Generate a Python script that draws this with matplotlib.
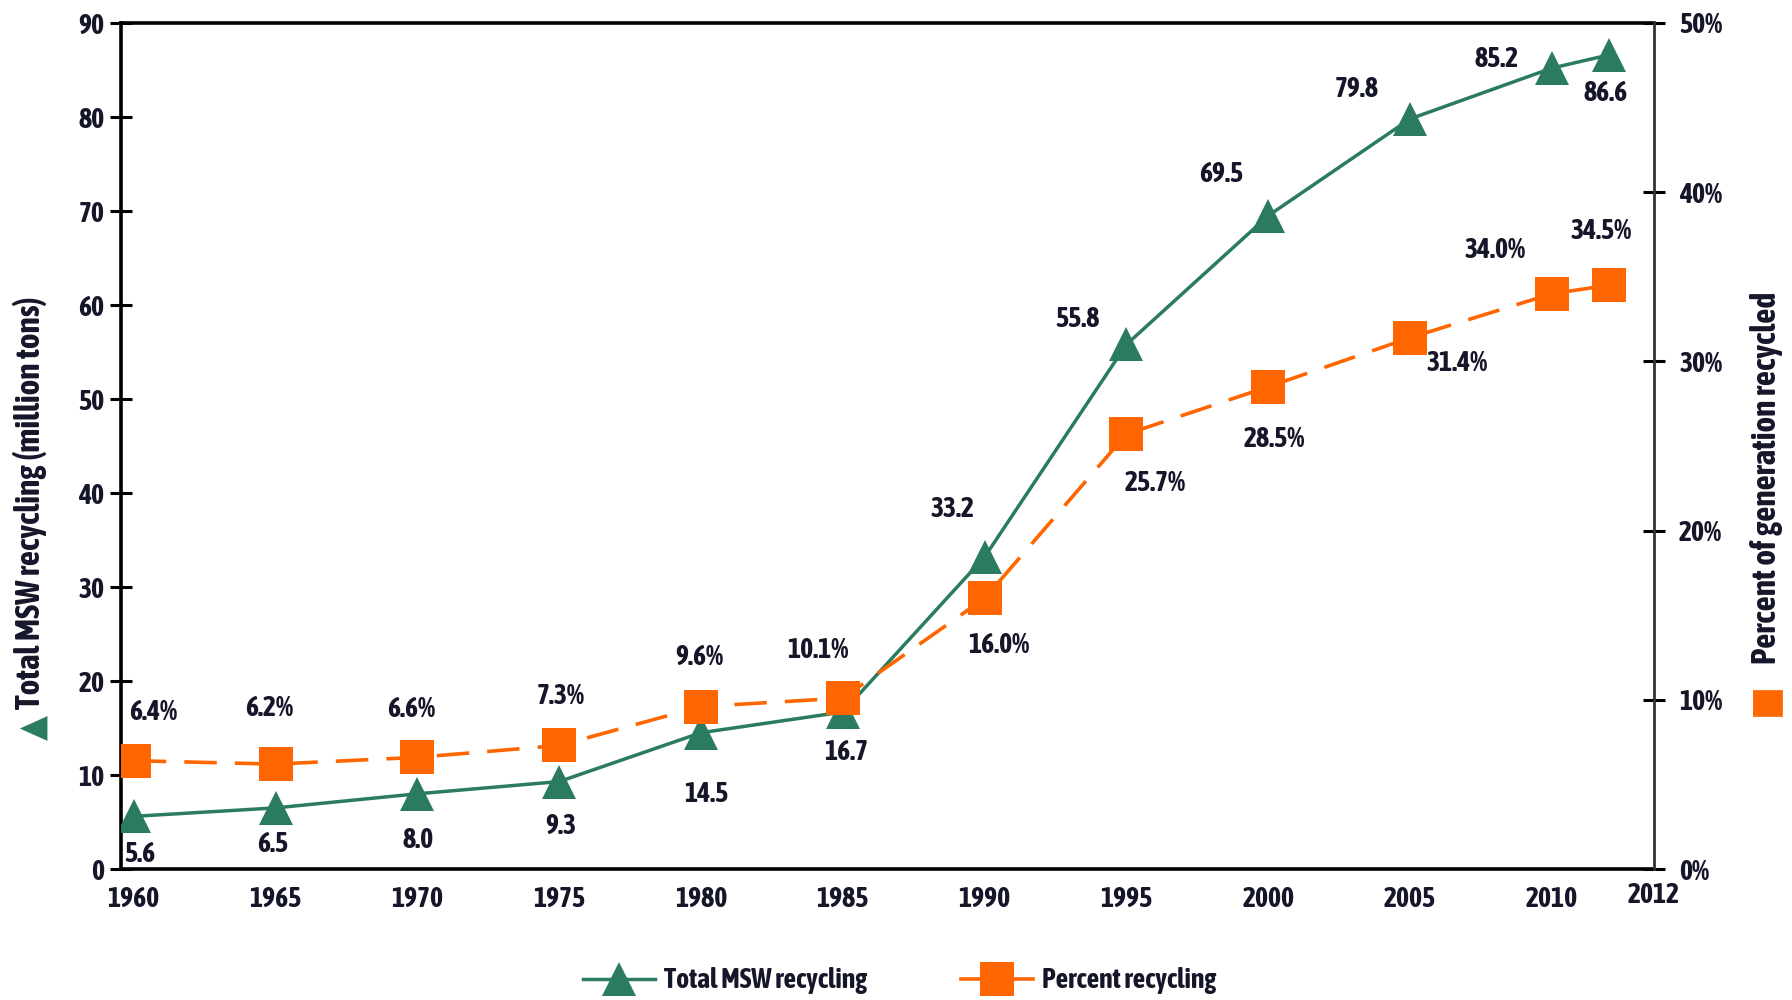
import matplotlib
matplotlib.use("Agg")
import matplotlib.pyplot as plt
from matplotlib import font_manager
from matplotlib.lines import Line2D
from matplotlib.ticker import FuncFormatter

# pick a narrow face (bold if possible) if there is one installed
fonts = [f for f in font_manager.fontManager.ttflist
         if "Narrow" in f.name or "Condensed" in f.name]
bold = [f.name for f in fonts if str(f.weight) in ("bold", "700", "600", "semibold", "demibold")]
names = bold or [f.name for f in fonts]
plt.rcParams["font.family"] = names[:1] + ["DejaVu Sans"]
plt.rcParams["font.stretch"] = "condensed"
plt.rcParams["font.weight"] = "bold"

years = [1960, 1965, 1970, 1975, 1980, 1985, 1990, 1995, 2000, 2005, 2010, 2012]
msw_tons = [5.6, 6.5, 8.0, 9.3, 14.5, 16.7, 33.2, 55.8, 69.5, 79.8, 85.2, 86.6]
pct_recycled = [6.4, 6.2, 6.6, 7.3, 9.6, 10.1, 16.0, 25.7, 28.5, 31.4, 34.0, 34.5]
tick_years = [1960, 1965, 1970, 1975, 1980, 1985, 1990, 1995, 2000, 2005, 2010]
last_tick_label = "2012"

# label offsets in pixels (dx, dy)
msw_offsets = [(6, -38), (-3, -37), (1, -47), (2, -45), (5, -62), (3, -40),
               (-32, 47), (-49, 25), (-47, 41), (-53, 29), (-55, 9), (-3, -39)]
pct_offsets = [(19, 48), (-6, 56), (-6, 48), (2, 49), (-2, 49), (-25, 48),
               (14, -47), (29, -49), (6, -53), (47, -26), (-57, 43), (-8, 54)]

GREEN = "#2b7b5e"
ORANGE = "#ff6600"
TEXT = "#16162a"
FS = 20

fig = plt.figure(figsize=(17.92, 10), dpi=100)
ax = fig.add_axes([0.0675, 0.131, 0.8555, 0.846])
ax2 = ax.twinx()

x_left, x_right = 1959.55, 2013.6

ax.plot(years, msw_tons, color=GREEN, lw=2.5, marker="^", markersize=24,
        markeredgewidth=0, zorder=3)
ax2.plot(years, pct_recycled, color=ORANGE, lw=2.6, dashes=(9, 5),
         marker="s", markersize=25, markeredgewidth=0, zorder=3)

for yr, v, (dx, dy) in zip(years, msw_tons, msw_offsets):
    ax.annotate(f"{v:.1f}", (yr, v), xytext=(dx, dy), textcoords="offset pixels",
                ha="center", va="center", fontsize=FS, color=TEXT)
for yr, v, (dx, dy) in zip(years, pct_recycled, pct_offsets):
    ax2.annotate(f"{v:.1f}%", (yr, v), xytext=(dx, dy), textcoords="offset pixels",
                 ha="center", va="center", fontsize=FS, color=TEXT)

ax.set_xlim(x_left, x_right)
ax.set_ylim(0, 90)
ax2.set_ylim(0, 50)
ax.set_yticks(range(0, 91, 10))
ax2.set_yticks(range(0, 51, 10))
ax2.yaxis.set_major_formatter(FuncFormatter(lambda v, p: f"{v:.0f}%"))

ax.set_xticks(tick_years + [x_right])
ax.set_xticklabels([str(y) for y in tick_years] + [last_tick_label])
ax.tick_params(axis="x", length=0, pad=12, labelsize=FS, labelcolor=TEXT)
ax.tick_params(axis="y", direction="inout", length=16, width=2.2, pad=4,
               labelsize=FS, labelcolor=TEXT)
ax2.tick_params(axis="y", direction="inout", length=16, width=2.2, pad=10,
                labelsize=FS, labelcolor=TEXT)
ax.get_xticklabels()[-1].set_y(0.004)

for sp in ["left", "bottom", "top"]:
    ax.spines[sp].set_linewidth(2.6)
    ax.spines[sp].set_color("black")
ax.spines["right"].set_visible(False)
for sp in ["left", "bottom", "top"]:
    ax2.spines[sp].set_visible(False)
ax2.spines["right"].set_linewidth(2.0)
ax2.spines["right"].set_color("#333333")

fig.text(0.0165, 0.497, "Total MSW recycling (million tons)", rotation=90,
         ha="center", va="center", fontsize=FS + 4, color=TEXT)
fig.text(0.0185, 0.272, "\u25B2", rotation=90, ha="center", va="center",
         fontsize=FS + 6, color=GREEN, family="DejaVu Sans")
fig.text(0.9855, 0.522, "Percent of generation recycled", rotation=90,
         ha="center", va="center", fontsize=FS + 4, color=TEXT)
fig.text(0.9845, 0.300, "\u25A0", rotation=90, ha="center", va="center",
         fontsize=FS + 8, color=ORANGE, family="DejaVu Sans")

handles = [
    Line2D([], [], color=GREEN, lw=2.5, marker="^", markersize=24, markeredgewidth=0),
    Line2D([], [], color=ORANGE, lw=2.6, marker="s", markersize=25, markeredgewidth=0),
]
fig.legend(handles, ["Total MSW recycling", "Percent recycling"], loc="center",
           bbox_to_anchor=(0.502, 0.019), ncol=2, frameon=False, fontsize=FS,
           handlelength=2.6, columnspacing=3.4, handletextpad=0.3,
           labelcolor=TEXT)

fig.savefig("out.png", dpi=100)
